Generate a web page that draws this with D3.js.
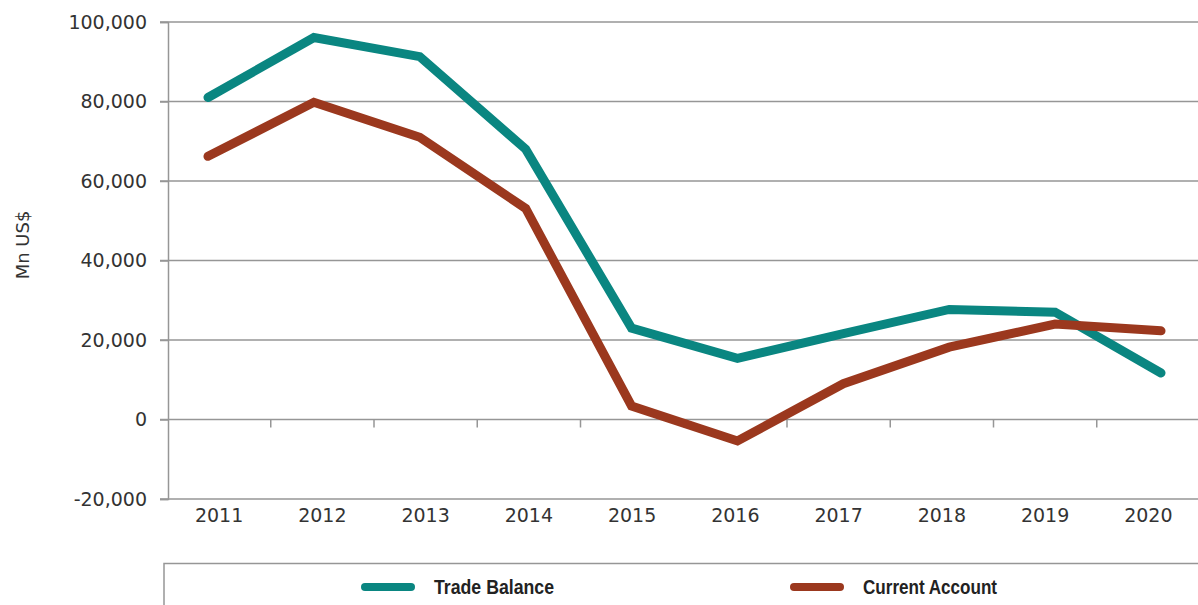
<!DOCTYPE html>
<html>
<head>
<meta charset="utf-8">
<script src="https://cdn.jsdelivr.net/npm/d3@7"></script>
<style>
  body { margin: 0; background: #fff; }
  svg { display: block; }
</style>
</head>
<body>
<div id="chart"></div>
<script>
const years = ["2011", "2012", "2013", "2014", "2015", "2016", "2017", "2018", "2019", "2020"];
const tradeBalance = [81000, 96100, 91300, 68000, 23000, 15400, 21600, 27700, 27000, 11700];
const currentAccount = [66200, 79800, 71000, 53100, 3400, -5400, 9000, 18200, 24000, 22300];
const yTicks = [-20000, 0, 20000, 40000, 60000, 80000, 100000];
const seriesNames = ["Trade Balance", "Current Account"];
const colors = ["#0a8681", "#9b381e"];

const width = 1198, height = 605;
const plot = { left: 168, right: 1198, top: 22, bottom: 499 };
const gridColor = "#969696";
const font = "'DejaVu Sans', sans-serif";

const svg = d3.select("#chart")
  .append("svg")
  .attr("width", width)
  .attr("height", height);

const y = d3.scaleLinear()
  .domain([-20000, 100000])
  .range([plot.bottom, plot.top]);

// category bands for labels and ticks
const xBand = d3.scaleBand()
  .domain(years)
  .range([plot.left - 0.5, plot.right + 2]);

// line points
const xLine = d3.scalePoint()
  .domain(years)
  .range([208, 1161]);

// gridlines
svg.append("g")
  .selectAll("line")
  .data(yTicks)
  .join("line")
  .attr("x1", plot.left - 8)
  .attr("x2", plot.right)
  .attr("y1", d => y(d))
  .attr("y2", d => y(d))
  .attr("stroke", gridColor)
  .attr("stroke-width", 1.5);

// y axis (hyphen minus like the original)
const fmt = d3.formatLocale({ decimal: ".", thousands: ",", grouping: [3], currency: ["$", ""], minus: "-" }).format(",");
const yAxis = svg.append("g")
  .attr("transform", "translate(" + plot.left + ",0)")
  .call(d3.axisLeft(y)
    .tickValues(yTicks)
    .tickSize(8)
    .tickPadding(13)
    .tickFormat(fmt));
yAxis.select(".domain").attr("stroke", gridColor).attr("stroke-width", 1.5);
yAxis.selectAll(".tick line").attr("stroke", gridColor).attr("stroke-width", 1.5);
yAxis.selectAll(".tick text")
  .style("font-family", font)
  .style("font-size", "19px")
  .attr("fill", "#333");

// ticks on zero line at band boundaries
svg.append("g")
  .selectAll("line")
  .data(years.slice(1))
  .join("line")
  .attr("x1", d => xBand(d))
  .attr("x2", d => xBand(d))
  .attr("y1", y(0))
  .attr("y2", y(0) + 8)
  .attr("stroke", gridColor)
  .attr("stroke-width", 1.5);

// x labels
svg.append("g")
  .selectAll("text")
  .data(years)
  .join("text")
  .attr("x", d => xBand(d) + xBand.bandwidth() / 2)
  .attr("y", 522)
  .attr("text-anchor", "middle")
  .style("font-family", font)
  .style("font-size", "19px")
  .attr("fill", "#333")
  .text(d => d);

// y title
svg.append("text")
  .attr("transform", "translate(29,245) rotate(-90)")
  .attr("text-anchor", "middle")
  .style("font-family", font)
  .style("font-size", "18px")
  .attr("fill", "#333")
  .text("Mn US$");

// lines
const line = d3.line()
  .x((d, i) => xLine(years[i]))
  .y(d => y(d));

[tradeBalance, currentAccount].forEach((vals, k) => {
  svg.append("path")
    .datum(vals)
    .attr("fill", "none")
    .attr("stroke", colors[k])
    .attr("stroke-width", 9)
    .attr("stroke-linecap", "round")
    .attr("stroke-linejoin", "miter")
    .attr("d", line);
});

// legend box
svg.append("path")
  .attr("d", "M164,605 V563.5 H" + plot.right)
  .attr("fill", "none")
  .attr("stroke", gridColor)
  .attr("stroke-width", 1.5);

const legendX = [361, 790];
const legendW = [120, 134];
const legend = svg.append("g")
  .selectAll("g")
  .data(seriesNames)
  .join("g")
  .attr("transform", (d, i) => "translate(" + legendX[i] + ",587)");

legend.append("line")
  .attr("x1", 4)
  .attr("x2", 50)
  .attr("stroke", (d, i) => colors[i])
  .attr("stroke-width", 8)
  .attr("stroke-linecap", "round");

legend.append("text")
  .attr("x", 73)
  .attr("y", 7)
  .attr("textLength", (d, i) => legendW[i])
  .attr("lengthAdjust", "spacingAndGlyphs")
  .style("font-family", "'Liberation Sans', sans-serif")
  .style("font-weight", "bold")
  .style("font-size", "20px")
  .attr("fill", "#222")
  .text(d => d);
</script>
</body>
</html>
